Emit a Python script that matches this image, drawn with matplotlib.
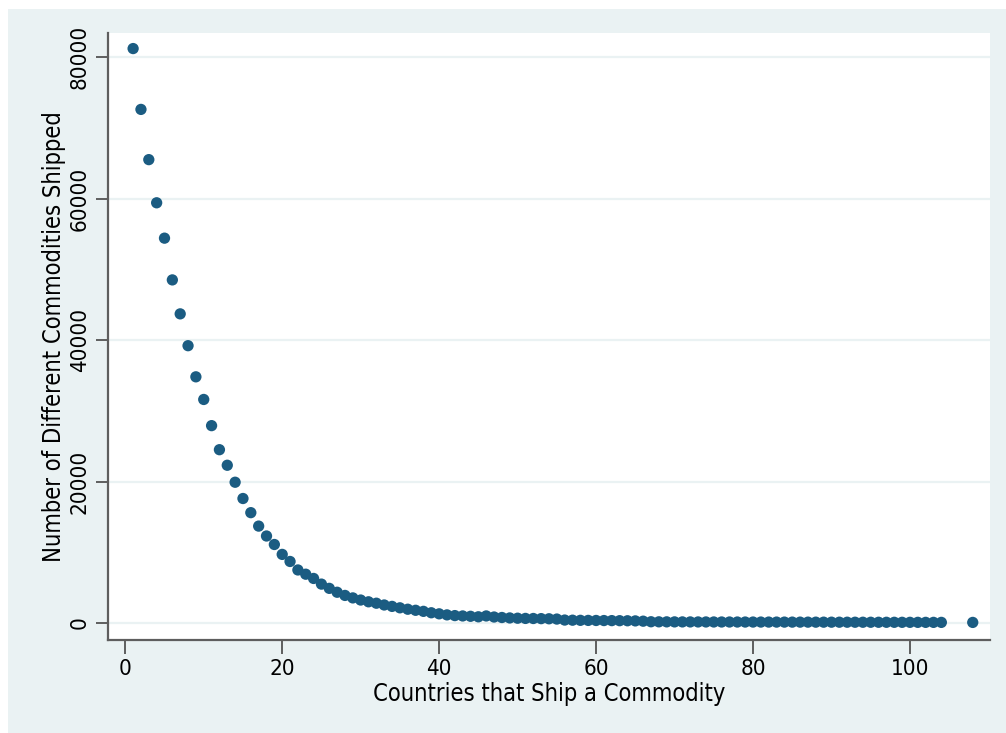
import matplotlib
matplotlib.use("Agg")
import matplotlib.pyplot as plt
from matplotlib.patches import Rectangle

plt.rcParams['font.family'] = ['DejaVu Sans']
plt.rcParams['font.stretch'] = 'condensed'

countries = list(range(1, 105)) + [108]
commodities = [
    81200, 72600, 65500, 59400, 54400, 48500, 43700, 39200, 34800, 31600,
    27900, 24500, 22300, 19900, 17600, 15600, 13700, 12300, 11100, 9700,
    8700, 7500, 6900, 6300, 5500, 4900, 4350, 3900, 3550, 3250,
    3000, 2800, 2550, 2350, 2150, 1950, 1800, 1650, 1450, 1300,
    1150, 1050, 1000, 950, 880, 1000, 850, 780, 720, 680,
    650, 640, 620, 600, 560, 420, 400, 380, 370, 360,
    350, 340, 330, 320, 300, 260, 180, 170, 165, 160,
    158, 155, 152, 150, 148, 146, 144, 142, 140, 138,
    136, 134, 132, 130, 128, 126, 124, 122, 120, 118,
    116, 114, 112, 110, 108, 106, 104, 102, 100, 98,
    96, 94, 92, 90, 85,
]
xticks = [0, 20, 40, 60, 80, 100]
yticks = [0, 20000, 40000, 60000, 80000]
xlabel = "Countries that Ship a Commodity"
ylabel = "Number of Different Commodities Shipped"

BG = '#EAF2F3'
MARK = '#1B5C82'
AXC = '#5E5E5E'

fig = plt.figure(figsize=(10.06, 7.33), dpi=100, facecolor='white')
fig.patches.append(Rectangle((8/1006, 0), 1 - 8/1006, 1 - 9/733, transform=fig.transFigure,
                             facecolor=BG, edgecolor='none', zorder=-10))
ax = fig.add_axes([108/1006, 1 - 640/733, (990 - 108)/1006, (640 - 33)/733])
ax.set_facecolor('white')
ax.scatter(countries, commodities, s=66, color=MARK, edgecolors='none', zorder=3)
ax.set_xlim(-2.2, 110.2)
ax.set_ylim(-2400, 83400)
ax.set_xticks(xticks)
ax.set_yticks(yticks)
ax.set_yticklabels([str(v) for v in yticks], rotation=90, va='center')
ax.grid(axis='y', color=BG, linewidth=1.6, zorder=0)
for s in ['top', 'right']:
    ax.spines[s].set_visible(False)
for s in ['left', 'bottom']:
    ax.spines[s].set_color(AXC)
    ax.spines[s].set_linewidth(1.6)
ax.tick_params(axis='both', colors=AXC, width=1.4, length=9, labelsize=16, labelcolor='black', pad=4)
ax.tick_params(axis='x', length=10)
ax.set_xlabel(xlabel, fontsize=17, labelpad=2)
ax.set_ylabel(ylabel, fontsize=17, labelpad=3)
fig.savefig('out.png', dpi=100, facecolor='white')
